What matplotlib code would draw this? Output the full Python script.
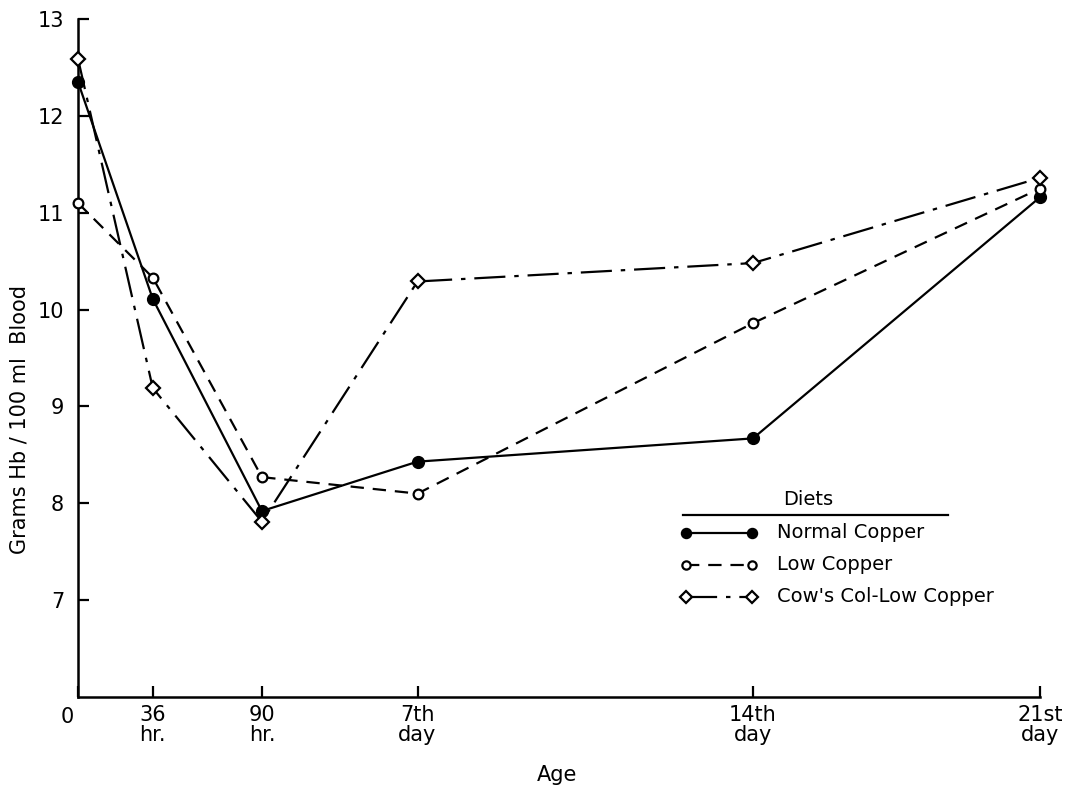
import matplotlib
matplotlib.use("Agg")
import matplotlib.pyplot as plt

# Age positions along the axis (hours from birth, as spaced on the plot)
age_pos = [0, 37, 91, 168, 334, 476]
age_labels = ["", "36\nhr.", "90\nhr.", "7th\nday", "14th\nday", "21st\nday"]

# Hemoglobin, grams Hb / 100 ml blood
normal_copper = [12.35, 10.11, 7.92, 8.43, 8.67, 11.16]
low_copper = [11.10, 10.33, 8.27, 8.10, 9.86, 11.25]
cows_col_low_copper = [12.59, 9.19, 7.81, 10.29, 10.48, 11.36]

series_names = ["Normal Copper", "Low Copper", "Cow's Col-Low Copper"]
y_ticks = [7, 8, 9, 10, 11, 12, 13]

plt.rcParams["font.family"] = ["DejaVu Sans"]

fig = plt.figure(figsize=(10.76, 7.92), dpi=100)
ax = fig.add_axes([78 / 1076, 1 - 697 / 792, (1040 - 78) / 1076, (697 - 19) / 792])

lw = 1.6
dash_style = (0, (6, 4))
dashdot_style = (0, (14, 4, 2, 4))

styles = [
    dict(color="black", lw=lw, ls="-", marker="o", ms=8.5, mfc="black", mec="black"),
    dict(color="black", lw=lw, ls=dash_style, marker="o", ms=7, mfc="white", mec="black", mew=1.6),
    dict(color="black", lw=lw, ls=dashdot_style, marker="D", ms=7, mfc="white", mec="black", mew=1.6),
]

for vals, st in zip([normal_copper, low_copper, cows_col_low_copper], styles):
    ax.plot(age_pos, vals, clip_on=False, zorder=3, **st)

ax.set_xlim(0, age_pos[-1])
ax.set_ylim(6, 13)

for s in ["top", "right"]:
    ax.spines[s].set_visible(False)
for s in ["left", "bottom"]:
    ax.spines[s].set_linewidth(1.8)

ax.set_yticks(y_ticks)
ax.set_yticklabels([str(v) for v in y_ticks], fontsize=15)
ax.set_xticks(age_pos)
ax.set_xticklabels(age_labels, fontsize=15, linespacing=0.95)
ax.tick_params(axis="both", direction="in", length=8, width=1.6, pad=10)
ax.tick_params(axis="x", pad=6)

# origin label
fig.text(67 / 1076, 1 - 717 / 792, "0", ha="center", va="center", fontsize=15)

fig.text(557 / 1076, 1 - 775 / 792, "Age", ha="center", va="center", fontsize=15)
fig.text(20 / 1076, 1 - 420 / 792, "Grams Hb / 100 ml  Blood", rotation=90,
         ha="center", va="center", fontsize=15)

# Legend block
def fx(px):
    return px / 1076

def fy(py):
    return 1 - py / 792

fig.text(fx(808), fy(500), "Diets", ha="center", va="center", fontsize=14)
fig.add_artist(plt.Line2D([fx(683), fx(948)], [fy(515), fy(515)], color="black", lw=1.6))
rows = [533, 565, 597]
for name, st, ry in zip(series_names, styles, rows):
    ln = plt.Line2D([fx(686), fx(752)], [fy(ry), fy(ry)], **{**st, "ms": st["ms"] * 0.85})
    fig.add_artist(ln)
    fig.text(fx(777), fy(ry), name, ha="left", va="center", fontsize=14)

fig.savefig("out.png", dpi=100)
